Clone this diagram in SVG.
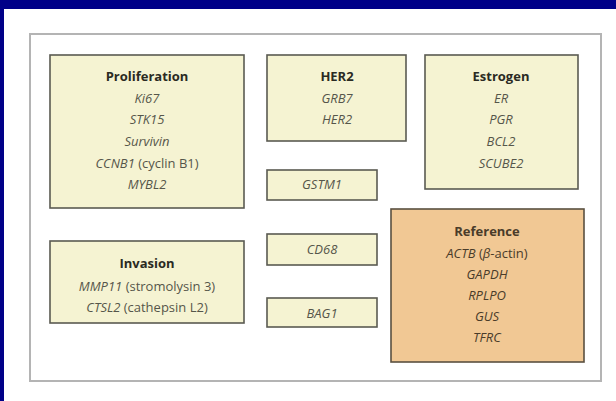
<svg xmlns="http://www.w3.org/2000/svg" width="616" height="401" viewBox="0 0 616 401">
<style>
.box{fill:#f5f3d2;stroke:#5a5a52;stroke-width:1.6}
.ref{fill:#f1c894;stroke:#5a5040;stroke-width:1.6}
.t{font-family:"Open Sans","Liberation Sans",sans-serif;font-size:13px;fill:#55564a;text-anchor:middle}
.i{font-style:italic}
.h{font-weight:bold;fill:#2a2a22;font-size:13px}
.rt{fill:#4a3c2a}
</style>
<rect width="616" height="401" fill="#000088"/>
<rect x="4" y="9" width="612" height="392" fill="#ffffff"/>
<rect x="30" y="34" width="571" height="347" fill="#ffffff" stroke="#b4b4b4" stroke-width="2"/>
<g id="connectors"/>
<g id="proliferation">
<rect class="box" x="50" y="55" width="194" height="153"/>
<text class="t h" x="147" y="81">Proliferation</text>
<text class="t i" x="147" y="103">Ki67</text>
<text class="t i" x="147" y="124">STK15</text>
<text class="t i" x="147" y="146">Survivin</text>
<text class="t" x="147" y="168"><tspan class="i">CCNB1</tspan> (cyclin B1)</text>
<text class="t i" x="147" y="189">MYBL2</text>
</g>
<g id="her2">
<rect class="box" x="267" y="55" width="139" height="86"/>
<text class="t h" x="337" y="81">HER2</text>
<text class="t i" x="337" y="103">GRB7</text>
<text class="t i" x="337" y="124">HER2</text>
</g>
<g id="estrogen">
<rect class="box" x="425" y="55" width="153" height="134"/>
<text class="t h" x="501" y="81">Estrogen</text>
<text class="t i" x="501" y="103">ER</text>
<text class="t i" x="501" y="124">PGR</text>
<text class="t i" x="501" y="146">BCL2</text>
<text class="t i" x="501" y="168">SCUBE2</text>
</g>
<g id="gstm1">
<rect class="box" x="267" y="170" width="110" height="30"/>
<text class="t i" x="322" y="189">GSTM1</text>
</g>
<g id="cd68">
<rect class="box" x="267" y="234" width="110" height="31"/>
<text class="t i" x="322" y="254">CD68</text>
</g>
<g id="bag1">
<rect class="box" x="267" y="298" width="110" height="29"/>
<text class="t i" x="322" y="318">BAG1</text>
</g>
<g id="invasion">
<rect class="box" x="50" y="241" width="194" height="82"/>
<text class="t h" x="147" y="268">Invasion</text>
<text class="t" x="147" y="291"><tspan class="i">MMP11</tspan> (stromolysin 3)</text>
<text class="t" x="147" y="312"><tspan class="i">CTSL2</tspan> (cathepsin L2)</text>
</g>
<g id="reference">
<rect class="ref" x="391" y="209" width="193" height="153"/>
<text class="t h rt" x="487" y="236">Reference</text>
<text class="t rt" x="487" y="258"><tspan class="i">ACTB</tspan> (<tspan class="i">β</tspan>-actin)</text>
<text class="t i rt" x="487" y="279">GAPDH</text>
<text class="t i rt" x="487" y="300">RPLPO</text>
<text class="t i rt" x="487" y="321">GUS</text>
<text class="t i rt" x="487" y="342">TFRC</text>
</g>
</svg>
